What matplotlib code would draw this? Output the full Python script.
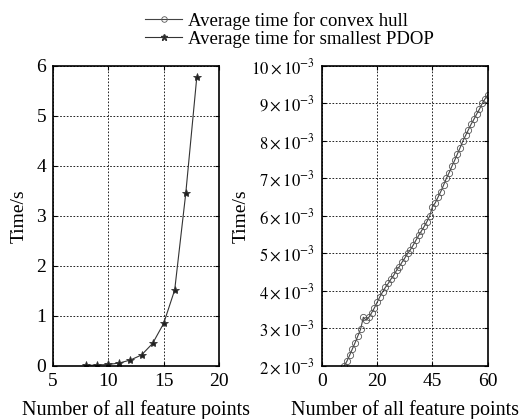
import matplotlib

matplotlib.use("Agg")
import matplotlib.pyplot as plt

# left panel: smallest PDOP search time (s)
pdop_points = [8, 9, 10, 11, 12, 13, 14, 15, 16, 17, 18]
pdop_time = [0.01, 0.02, 0.03, 0.06, 0.12, 0.22, 0.45, 0.85, 1.52, 3.45, 5.78]

# right panel: convex hull time (x 1e-3 s)
hull_points = list(range(8, 61))
hull_time_ms = [
    2.00, 2.12, 2.28, 2.45, 2.62, 2.80, 2.98, 3.30, 3.22, 3.30,
    3.42, 3.55, 3.70, 3.85, 3.98, 4.10, 4.20, 4.32, 4.42, 4.55,
    4.65, 4.77, 4.88, 5.00, 5.10, 5.22, 5.35, 5.48, 5.60, 5.72,
    5.85, 6.00, 6.25, 6.35, 6.50, 6.65, 6.82, 7.00, 7.15, 7.32,
    7.48, 7.65, 7.82, 8.00, 8.15, 8.30, 8.45, 8.58, 8.72, 8.85,
    9.00, 9.12, 9.23,
]
hull_time = [v * 1e-3 for v in hull_time_ms]

left_xticks = [5, 10, 15, 20]
left_yticks = [0, 1, 2, 3, 4, 5, 6]
right_xticks = [0, 20, 40, 60]
right_xlabels = ["0", "20", "45", "60"]
right_yticks = [2e-3, 3e-3, 4e-3, 5e-3, 6e-3, 7e-3, 8e-3, 9e-3, 10e-3]
right_ylabels = [r"$%d\times10^{-3}$" % n for n in range(2, 11)]

plt.rcParams["font.family"] = ["Liberation Serif", "DejaVu Serif"]
plt.rcParams["mathtext.fontset"] = "stix"
plt.rcParams["font.size"] = 14

fig = plt.figure(figsize=(5.2, 4.19), dpi=100)
ax_left = fig.add_axes([0.102, 0.1265, 0.319, 0.716])
ax_right = fig.add_axes([0.619, 0.1265, 0.319, 0.716])

grid_style = dict(color="black", linestyle=(0, (2, 2)), linewidth=0.6)

ax_left.plot(pdop_points, pdop_time, color="#333333", linewidth=0.8,
             marker="*", markersize=6, markeredgewidth=0.6, markerfacecolor="#222222")
ax_left.set_xlim(5, 20)
ax_left.set_ylim(0, 6)
ax_left.set_xticks(left_xticks)
ax_left.set_yticks(left_yticks)
ax_left.set_ylabel("Time/s", labelpad=6)
ax_left.set_xlabel("Number of all feature points", labelpad=7, fontsize=14.5)
ax_left.grid(True, **grid_style)

ax_right.plot(hull_points, hull_time, color="#444444", linewidth=0.8,
              marker="o", markersize=4.5, markerfacecolor="none",
              markeredgecolor="#555555", markeredgewidth=0.6)
ax_right.set_xlim(0, 60)
ax_right.set_ylim(2e-3, 10e-3)
ax_right.set_xticks(right_xticks)
ax_right.set_xticklabels(right_xlabels)
ax_right.set_yticks(right_yticks)
ax_right.set_yticklabels(right_ylabels, fontsize=12)
ax_right.set_ylabel("Time/s", labelpad=1)
ax_right.set_xlabel("Number of all feature points", labelpad=7, fontsize=14.5)
ax_right.grid(True, **grid_style)

for ax in (ax_left, ax_right):
    ax.tick_params(direction="in", length=3, width=0.8, top=True, right=True, pad=5)
    for spine in ax.spines.values():
        spine.set_linewidth(1.2)

hull_handle, = ax_right.plot([], [], color="#444444", linewidth=0.8, marker="o",
                             markersize=4, markerfacecolor="none",
                             markeredgecolor="#555555", markeredgewidth=0.6)
pdop_handle, = ax_left.plot([], [], color="#333333", linewidth=0.8, marker="*",
                            markersize=5, markerfacecolor="#222222")
fig.legend([hull_handle, pdop_handle],
           ["Average time for convex hull", "Average time for smallest PDOP"],
           loc="upper left", bbox_to_anchor=(0.246, 1.012), frameon=False,
           handlelength=2.0, handletextpad=0.3, labelspacing=0.0, fontsize=13.5)

fig.savefig("out.png", dpi=100)
